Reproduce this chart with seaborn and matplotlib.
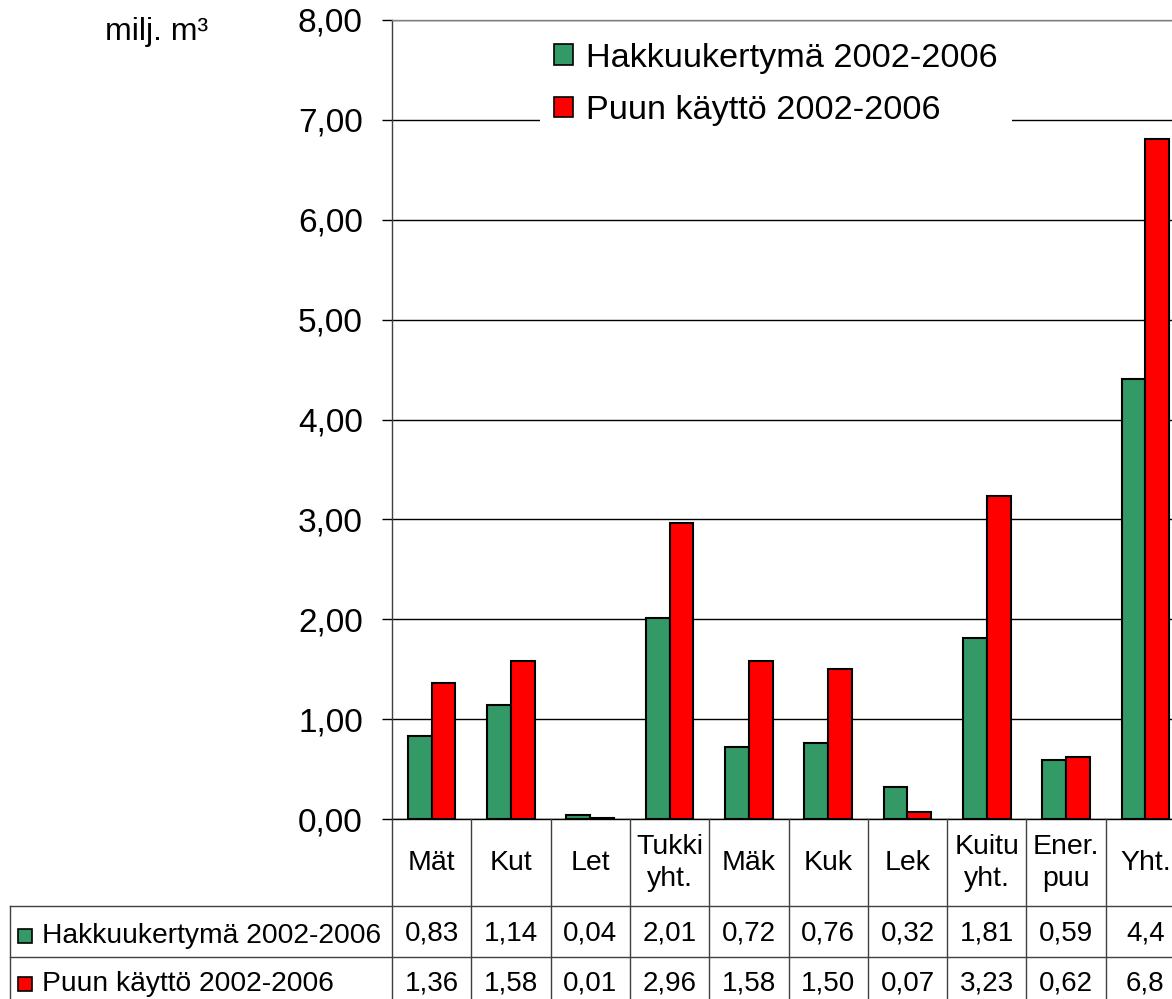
import numpy as np
import pandas as pd
import seaborn as sns
import matplotlib.pyplot as plt
from matplotlib.patches import Patch, Rectangle
from matplotlib.lines import Line2D
from matplotlib.ticker import FuncFormatter
from matplotlib.transforms import blended_transform_factory

categories = ["Mät", "Kut", "Let", "Tukki\nyht.", "Mäk", "Kuk", "Lek", "Kuitu\nyht.", "Ener.\npuu", "Yht."]
series = ["Hakkuukertymä 2002-2006", "Puun käyttö 2002-2006"]
hakkuu = [0.83, 1.14, 0.04, 2.01, 0.72, 0.76, 0.32, 1.81, 0.59, 4.41]
kaytto = [1.36, 1.58, 0.01, 2.96, 1.58, 1.50, 0.07, 3.23, 0.62, 6.81]
# table text as seen in the picture (last column is cut off)
hakkuu_txt = ["0,83", "1,14", "0,04", "2,01", "0,72", "0,76", "0,32", "1,81", "0,59", "4,4"]
kaytto_txt = ["1,36", "1,58", "0,01", "2,96", "1,58", "1,50", "0,07", "3,23", "0,62", "6,8"]
colors = ["#339966", "#ff0000"]

df = pd.DataFrame({
    "Luokka": categories * 2,
    "Sarja": np.repeat(series, len(categories)),
    "Arvo": hakkuu + kaytto,
})

W, H = 1172, 999
plt.rcParams['font.family'] = ['Liberation Sans', 'DejaVu Sans']

fig = plt.figure(figsize=(W / 100, H / 100), dpi=100)
ax = fig.add_axes([392 / W, 180 / H, 793 / W, 799 / H])

sns.barplot(data=df, x="Luokka", y="Arvo", hue="Sarja", order=categories, hue_order=series,
            palette=colors, saturation=1, width=0.6, edgecolor="black", linewidth=1.5,
            legend=False, ax=ax)

ax.set_xlim(-0.5, 9.5)
ax.set_ylim(0, 8)
ax.set_yticks(np.arange(0, 9, 1))
ax.yaxis.set_major_formatter(FuncFormatter(lambda v, p: f"{v:.2f}".replace(".", ",")))
ax.tick_params(axis="y", labelsize=24, length=7, width=1, color="black", pad=14)
ax.tick_params(axis="x", bottom=False, labelbottom=False)
ax.grid(axis="y", color="black", linewidth=1)
ax.set_axisbelow(True)
ax.set_xlabel("")
ax.set_ylabel("")
ax.spines["right"].set_visible(False)
ax.spines["top"].set_color("#808080")
ax.spines["left"].set_color("#404040")
ax.spines["bottom"].set_color("black")
for s in ax.spines.values():
    s.set_linewidth(1)

fig.text(105 / W, 1 - 40 / H, "milj. m³", fontsize=23, ha="left", va="baseline")

handles = [Patch(facecolor=c, edgecolor="black", linewidth=1.2, label=s) for c, s in zip(colors, series)]
ax.legend(handles=handles, loc="upper left", bbox_to_anchor=((540 - 392) / 793, (819 - 29) / 799),
          fontsize=24.7, frameon=True, edgecolor="none", facecolor="white", framealpha=1,
          fancybox=False, handlelength=0.55, handleheight=0.55, handletextpad=0.4,
          labelspacing=0.62, borderpad=0.4, borderaxespad=0)

# data table below the axis
tr = blended_transform_factory(ax.transData, fig.transFigure)
fy = lambda px: 1 - px / H
line_col = "#404040"
for i in range(len(categories) + 1):
    fig.add_artist(Line2D([i - 0.5, i - 0.5], [fy(819), fy(1000)], transform=tr, color=line_col, lw=1))
for ypx in [906, 957]:
    fig.add_artist(Line2D([10 / W, 1.02], [fy(ypx), fy(ypx)], transform=fig.transFigure, color=line_col, lw=1))
fig.add_artist(Line2D([10 / W, 10 / W], [fy(906), fy(1000)], transform=fig.transFigure, color=line_col, lw=1))

for i, cat in enumerate(categories):
    fig.text(i, fy(863), cat, transform=tr, fontsize=20.5, ha="center", va="center", linespacing=1.25)
    fig.text(i, fy(933), hakkuu_txt[i], transform=tr, fontsize=20, ha="center", va="center")
    fig.text(i, fy(983), kaytto_txt[i], transform=tr, fontsize=20, ha="center", va="center")

for ypx, c, s in zip([936, 984], colors, series):
    fig.add_artist(Rectangle((18 / W, fy(ypx + 7)), 14 / W, 14 / H, transform=fig.transFigure,
                             facecolor=c, edgecolor="black", lw=1.2))
    fig.text(42 / W, fy(ypx), s, fontsize=20.3, ha="left", va="center")

fig.savefig("out.png", dpi=100)
